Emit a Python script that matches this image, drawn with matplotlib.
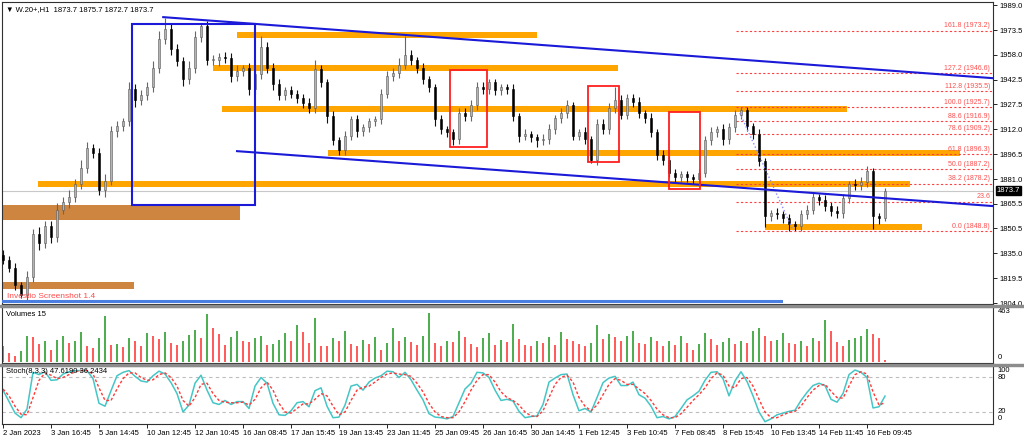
import numpy as np
import matplotlib.pyplot as plt
from matplotlib.patches import Rectangle

plt.rcParams['font.family'] = ['Liberation Sans', 'DejaVu Sans']

# --- price data (one candle every 2 hours) ---
first_open = 1834
closes = [
    1831, 1826, 1815, 1809, 1820, 1847, 1841, 1852, 1845, 1862,
    1867, 1870, 1878, 1888, 1900, 1897, 1874, 1880, 1911, 1914,
    1917, 1937, 1930, 1933, 1938, 1950, 1968, 1974, 1962, 1954,
    1943, 1950, 1969, 1976, 1955, 1955, 1957, 1956, 1945, 1948,
    1950, 1937, 1946, 1963, 1950, 1940, 1933, 1936, 1934, 1931,
    1928, 1925, 1949, 1941, 1920, 1905, 1899, 1908, 1918, 1911,
    1913, 1917, 1918, 1934, 1945, 1947, 1952, 1958, 1955, 1950,
    1943, 1938, 1918, 1912, 1910, 1906, 1922, 1920, 1927, 1938,
    1937, 1941, 1936, 1938, 1937, 1920, 1908, 1909, 1907, 1905,
    1906, 1912, 1919, 1922, 1927, 1908, 1910, 1906, 1893, 1915,
    1912, 1925, 1930, 1921, 1931, 1929, 1922, 1919, 1910, 1896,
    1893, 1885, 1882, 1884, 1882, 1881, 1885, 1905, 1910, 1912,
    1906, 1913, 1921, 1924, 1914, 1909, 1892, 1858, 1860, 1859,
    1857, 1853, 1852, 1859, 1862, 1870, 1868, 1864, 1861, 1860,
    1869, 1878, 1877, 1879, 1886, 1858, 1857, 1873.7]

upper_wick = [
    3, 2, 3, 2, 4, 3, 4, 3, 3, 4,
    3, 4, 3, 5, 4, 3, 3, 4, 3, 3,
    2, 4, 3, 3, 3, 4, 5, 7, 3, 3,
    3, 4, 4, 2, 3, 3, 2, 3, 3, 4,
    2, 3, 4, 7, 3, 3, 3, 2, 3, 2,
    3, 3, 6, 3, 2, 3, 2, 3, 2, 3,
    2, 2, 2, 3, 3, 3, 4, 12, 3, 2,
    3, 2, 2, 3, 2, 2, 3, 3, 3, 3,
    3, 2, 2, 2, 2, 3, 2, 3, 2, 2,
    3, 3, 2, 3, 3, 2, 2, 3, 2, 3,
    3, 3, 8, 3, 3, 3, 3, 2, 3, 2,
    3, 2, 2, 2, 2, 2, 2, 3, 3, 2,
    3, 3, 3, 2, 2, 2, 3, 2, 2, 3,
    2, 2, 2, 3, 3, 3, 2, 3, 3, 3,
    3, 2, 3, 3, 3, 2, 2, 2]

lower_wick = [
    3, 3, 3, 2, 3, 3, 4, 3, 4, 3,
    3, 4, 3, 3, 3, 3, 3, 4, 3, 4,
    3, 3, 4, 3, 3, 3, 3, 3, 4, 3,
    4, 3, 3, 3, 3, 3, 4, 3, 4, 3,
    3, 4, 3, 3, 3, 4, 3, 3, 3, 3,
    3, 3, 3, 3, 4, 3, 3, 3, 3, 4,
    3, 3, 3, 3, 3, 3, 3, 3, 3, 3,
    3, 3, 4, 3, 3, 4, 3, 3, 3, 3,
    3, 3, 3, 3, 3, 3, 4, 3, 3, 4,
    3, 3, 3, 3, 3, 3, 3, 3, 2, 3,
    3, 3, 3, 3, 3, 3, 3, 3, 3, 3,
    3, 3, 3, 3, 3, 3, 3, 3, 3, 3,
    4, 3, 3, 3, 3, 3, 3, 7, 3, 3,
    3, 4, 3, 3, 3, 3, 3, 3, 3, 3,
    3, 3, 3, 3, 3, 8, 4, 2]

volumes = [
    150, 90, 60, 110, 250, 240, 170, 200, 120, 210,
    250, 180, 200, 290, 150, 130, 230, 440, 160, 170,
    140, 230, 200, 150, 280, 250, 220, 290, 180, 160,
    200, 260, 310, 230, 460, 330, 270, 160, 240, 300,
    200, 190, 230, 250, 160, 170, 210, 280, 200, 360,
    290, 180, 420, 150, 150, 230, 200, 300, 170, 150,
    210, 170, 240, 120, 180, 330, 200, 240, 190, 160,
    250, 470, 180, 150, 200, 190, 300, 240, 170, 140,
    230, 280, 160, 210, 190, 370, 220, 160, 150, 200,
    180, 240, 160, 290, 220, 200, 170, 150, 180, 360,
    220, 270, 240, 200, 250, 300, 180, 170, 240, 200,
    150, 200, 160, 250, 180, 120, 170, 280, 220, 160,
    190, 230, 170, 200, 180, 300, 330, 250, 200, 210,
    280, 180, 170, 200, 150, 230, 200, 400, 300, 190,
    150, 210, 230, 250, 320, 270, 230, 15]

stoch_k = [
    58, 38, 18, 10, 25, 89, 85, 90, 75, 76,
    86, 90, 92, 92, 92, 78, 35, 30, 57, 83,
    89, 92, 82, 74, 72, 83, 91, 86, 71, 52,
    20, 32, 70, 84, 58, 36, 33, 40, 33, 38,
    38, 26, 65, 80, 70, 35, 15, 14, 22, 36,
    38, 29, 57, 62, 30, 10, 11, 32, 65, 68,
    58, 72, 79, 83, 91, 90, 80, 89, 76, 58,
    41, 17, 11, 10, 8, 12, 36, 60, 70, 89,
    88, 80, 58, 40, 42, 39, 21, 10, 12, 13,
    33, 72, 79, 85, 86, 50, 22, 26, 20, 45,
    71, 79, 82, 66, 66, 72, 50, 44, 30, 10,
    12, 8, 12, 26, 41, 48, 56, 75, 89, 90,
    78, 48, 74, 90, 73, 48, 20, 3, 8, 15,
    18, 21, 23, 40, 54, 66, 70, 66, 42, 37,
    52, 85, 93, 89, 80, 27, 29, 47.6]

stoch_d = [
    60, 48, 30, 16, 15, 45, 75, 88, 84, 78,
    80, 85, 90, 92, 92, 86, 62, 40, 40, 60,
    78, 88, 88, 80, 75, 76, 85, 88, 80, 65,
    40, 30, 45, 68, 70, 52, 40, 37, 36, 36,
    37, 32, 42, 62, 72, 58, 35, 20, 18, 26,
    34, 34, 42, 52, 48, 30, 15, 20, 40, 58,
    63, 65, 72, 80, 86, 88, 86, 85, 82, 70,
    55, 35, 20, 12, 10, 10, 20, 38, 58, 75,
    85, 85, 72, 55, 45, 40, 32, 20, 13, 12,
    22, 45, 68, 80, 84, 72, 45, 30, 22, 32,
    50, 68, 78, 75, 68, 68, 60, 52, 40, 25,
    15, 10, 10, 17, 28, 40, 50, 62, 78, 88,
    84, 65, 62, 78, 80, 65, 42, 20, 10, 10,
    15, 19, 21, 30, 45, 58, 66, 68, 56, 45,
    44, 65, 85, 90, 86, 55, 32, 36.2]

date_labels = ['2 Jan 2023', '3 Jan 16:45', '5 Jan 14:45', '10 Jan 12:45',
               '12 Jan 10:45', '16 Jan 08:45', '17 Jan 15:45', '19 Jan 13:45',
               '23 Jan 11:45', '25 Jan 09:45', '26 Jan 16:45', '30 Jan 14:45',
               '1 Feb 12:45', '3 Feb 10:45', '7 Feb 08:45', '8 Feb 15:45',
               '10 Feb 13:45', '14 Feb 11:45', '16 Feb 09:45']

price_ticks = [1989.0, 1973.5, 1958.0, 1942.5, 1927.5, 1912.0, 1896.5,
               1881.0, 1865.5, 1850.5, 1835.0, 1819.5, 1804.0]

fib_ratios = ['161.8', '127.2', '112.8', '100.0', '88.6', '78.6',
              '61.8', '50.0', '38.2', '23.6', '0.0']
fib_prices = [1973.2, 1946.6, 1935.5, 1925.7, 1916.9, 1909.2,
              1896.3, 1887.2, 1878.2, 1866.9, 1848.8]

# support / resistance zones: (start bar, end bar, price)
orange_zones = [(39, 89, 1970.4), (35, 102.5, 1949.9), (36.5, 140.7, 1924.4),
                (54.2, 159.5, 1897.1), (5.8, 151.2, 1877.8), (127, 153.2, 1851.0)]
brown_zones = [(-0.2, 39.5, 1855.5, 1864.8), (-0.2, 21.8, 1812.6, 1817.0)]
red_boxes = [(74.5, 80.7, 1900.8, 1948.6), (97.5, 102.7, 1891.5, 1938.7),
             (111.0, 116.2, 1874.7, 1922.5)]

n = len(closes)
idx = np.arange(n)
closes = np.array(closes, dtype=float)
opens = np.concatenate([[first_open], closes[:-1]])
highs = np.maximum(opens, closes) + np.array(upper_wick)
lows = np.minimum(opens, closes) - np.array(lower_wick)

W, H = 1024, 440
fig = plt.figure(figsize=(W / 100, H / 100), dpi=100)
fig.patch.set_facecolor('white')


def px_axes(x0, y0, x1, y1):
    return fig.add_axes([x0 / W, 1 - y1 / H, (x1 - x0) / W, (y1 - y0) / H])


ax = px_axes(2, 2, 993, 304)
axv = px_axes(2, 307, 993, 363)
axs = px_axes(2, 366, 993, 424)

# separators between panels
for y0, y1 in [(304.5, 306.5), (363.5, 365.5)]:
    fig.patches.append(Rectangle((0, 1 - y1 / H), 1, (y1 - y0) / H,
                                 transform=fig.transFigure, color='#8c8c8c', zorder=0))

xlim = (-0.17, 165)
for a in (ax, axv, axs):
    a.set_xlim(*xlim)
    for s in a.spines.values():
        s.set_color('#303030')
        s.set_linewidth(0.8)
    a.tick_params(axis='x', bottom=False, labelbottom=False)
    a.yaxis.tick_right()
    a.tick_params(axis='y', length=3, width=0.6, labelsize=5.5, pad=2)

# --- main price panel ---
ax.set_ylim(1803.4, 1990.9)
ax.set_yticks(price_ticks)
ax.set_yticklabels(['%.1f' % p for p in price_ticks])

for x0, x1, p in orange_zones:
    ax.add_patch(Rectangle((x0, p - 1.9), x1 - x0, 3.8, color='#ffa500', lw=0, zorder=1))
for x0, x1, p0, p1 in brown_zones:
    ax.add_patch(Rectangle((x0, p0), x1 - x0, p1 - p0, color='#cd853f', lw=0, zorder=1))

ax.axhline(closes[-1], color='#c8c8c8', lw=0.8, zorder=1)

up = closes >= opens
ax.vlines(idx, lows, highs, colors=np.where(up, '#666666', '#111111'), lw=0.8, zorder=2)
body_h = np.maximum(np.abs(closes - opens), 0.5)
ax.bar(idx[up], body_h[up], bottom=np.minimum(opens, closes)[up], width=0.48,
       color='#b4b4b4', edgecolor='#5a5a5a', linewidth=0.4, zorder=3)
ax.bar(idx[~up], body_h[~up], bottom=np.minimum(opens, closes)[~up], width=0.48,
       color='#000000', edgecolor='#000000', linewidth=0.4, zorder=3)

# fibonacci levels
ax.hlines(fib_prices, 122.2, 165, colors='#ff4040', linestyles=(0, (2, 2)), lw=0.8, zorder=2)
for r, p in zip(fib_ratios, fib_prices):
    txt = r if r == '23.6' else '%s (%.1f)' % (r, p)
    ax.text(164.5, p + 0.8, txt, color='#ff5050', fontsize=5, ha='right', va='bottom', zorder=5)
ax.plot([122.8, 131.7], [1922, 1849], color='#8a8aff', ls=':', lw=1, zorder=4)

# channel, boxes
ax.plot([26.7, 165], [1981.5, 1943.6], color='#1a1ad8', lw=1.5, zorder=4)
ax.plot([39, 165], [1898.3, 1864.2], color='#1a1ad8', lw=1.5, zorder=4)
ax.add_patch(Rectangle((21.5, 1864.8), 20.5, 112.4, fill=False, edgecolor='#1a1ad8', lw=1.5, zorder=4))
for x0, x1, p0, p1 in red_boxes:
    ax.add_patch(Rectangle((x0, p0), x1 - x0, p1 - p0, fill=False, edgecolor='#ff2020', lw=1.3, zorder=4))
ax.plot([-0.17, 129.7], [1805.0, 1805.0], color='#4a7ee0', lw=2.2, zorder=4)
ax.text(0.7, 1808.0, 'Investio Screenshot 1.4', color='#ff4a4a', fontsize=6, va='center', zorder=5)

ax.text(1.004, closes[-1], '%.1f' % closes[-1], transform=ax.get_yaxis_transform(),
        color='white', fontsize=5.5, va='center', ha='left', clip_on=False,
        bbox=dict(boxstyle='square,pad=0.15', fc='black', ec='black'))
ax.text(0.004, 0.985, '\u25bc W.20+,H1  1873.7 1875.7 1872.7 1873.7', transform=ax.transAxes,
        fontsize=5.5, va='top', ha='left', family=['Liberation Sans', 'DejaVu Sans'])

# --- volume panel ---
vol = np.array(volumes)
vol_up = np.concatenate([[False], vol[1:] > vol[:-1]])
axv.bar(idx, vol, width=0.35, color=np.where(vol_up, '#4fae4f', '#ff5c5c'))
axv.set_ylim(-10, 530)
axv.set_yticks([])
axv.tick_params(axis='y', right=False)
axv.text(1.005, 482, '463', transform=axv.get_yaxis_transform(), fontsize=5.5, va='center')
axv.text(1.005, 45, '0', transform=axv.get_yaxis_transform(), fontsize=5.5, va='center')
axv.text(0.004, 0.93, 'Volumes 15', transform=axv.transAxes, fontsize=5.5, va='top')

# --- stochastic panel ---
axs.set_ylim(-1, 100)
axs.axhline(80, color='#bdbdbd', ls=(0, (3, 3)), lw=0.8)
axs.axhline(20, color='#bdbdbd', ls=(0, (3, 3)), lw=0.8)
axs.plot(idx, stoch_k, color='#45c6c6', lw=1.1)
axs.plot(idx, stoch_d, color='#ff3a3a', ls=(0, (2, 1.5)), lw=1.0)
axs.set_yticks([])
axs.tick_params(axis='y', right=False)
for lab, v in [('100', 93), ('80', 80), ('20', 20), ('0', 8)]:
    axs.text(1.005, v, lab, transform=axs.get_yaxis_transform(), fontsize=5.5, va='center')
axs.text(0.004, 0.97, 'Stoch(8,3,3) 47.6190 36.2434', transform=axs.transAxes, fontsize=5.5, va='top')

axs.tick_params(axis='x', bottom=True, labelbottom=True, length=3, width=0.6,
                labelsize=5.5, pad=1)
axs.set_xticks(np.arange(0, 8 * len(date_labels), 8))
axs.set_xticklabels(date_labels, ha='left')

fig.savefig('out.png', dpi=100, facecolor='white')
